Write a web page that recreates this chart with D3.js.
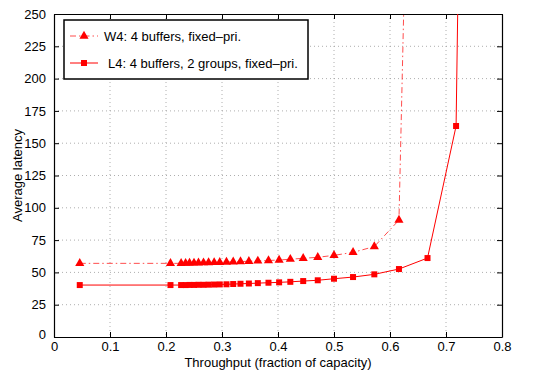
<!DOCTYPE html>
<html>
<head>
<meta charset="utf-8">
<script src="https://cdn.jsdelivr.net/npm/d3@7"></script>
<style>
  body { margin: 0; background: #fff; }
  svg { display: block; font-family: "Liberation Sans", Arial, sans-serif; }
</style>
</head>
<body>
<div id="chart"></div>
<script>
// Throughput values (fraction of capacity)
const w4X = [0.046, 0.208, 0.227, 0.235, 0.242, 0.250, 0.258, 0.267, 0.276, 0.286, 0.296,
  0.308, 0.320, 0.333, 0.348, 0.364, 0.383, 0.402, 0.422, 0.445, 0.471, 0.500, 0.534,
  0.572, 0.616, 0.627];
const w4Y = [57, 57, 57, 57.1, 57.2, 57.3, 57.4, 57.5, 57.6, 57.7, 57.8,
  58, 58.2, 58.4, 58.6, 58.9, 59.2, 59.6, 60.2, 60.9, 61.7, 63.2, 65.5,
  70, 90.5, 300];

const l4X = [0.046, 0.208, 0.227, 0.235, 0.242, 0.250, 0.258, 0.267, 0.276, 0.286, 0.296,
  0.308, 0.320, 0.333, 0.348, 0.364, 0.383, 0.402, 0.422, 0.445, 0.471, 0.500, 0.534,
  0.572, 0.616, 0.667, 0.718, 0.7225];
const l4Y = [40.2, 40.2, 40.2, 40.2, 40.3, 40.3, 40.4, 40.4, 40.5, 40.6, 40.7,
  40.8, 41, 41.2, 41.4, 41.7, 42, 42.3, 42.7, 43.3, 43.9, 45.1, 46.4,
  48.5, 52.6, 61.1, 163.3, 300];
// markers are drawn only for the measured points (the last point runs off the top)
const w4Marked = w4X.length - 1;
const l4Marked = l4X.length - 1;

const xTicks = [0, 0.1, 0.2, 0.3, 0.4, 0.5, 0.6, 0.7, 0.8];
const yTicks = [0, 25, 50, 75, 100, 125, 150, 175, 200, 225, 250];

const seriesNames = ['W4: 4 buffers, fixed\u2013pri.', 'L4: 4 buffers, 2 groups, fixed\u2013pri.'];

const width = 545;
const height = 370;
const margin = { top: 14, right: 43, bottom: 33, left: 54 };
const innerW = width - margin.left - margin.right;
const innerH = height - margin.top - margin.bottom;
const red = '#ff0000';

const svg = d3.select('#chart').append('svg')
  .attr('width', width)
  .attr('height', height);

const g = svg.append('g').attr('transform', `translate(${margin.left},${margin.top})`);

const x = d3.scaleLinear().domain([0, 0.8]).range([0, innerW]);
const y = d3.scaleLinear().domain([0, 250]).range([innerH, 0]);

// dotted grid
g.append('g').selectAll('line').data(xTicks.slice(1, -1)).enter().append('line')
  .attr('x1', d => x(d)).attr('x2', d => x(d))
  .attr('y1', 0).attr('y2', innerH)
  .attr('stroke', '#999').attr('stroke-width', 0.8).attr('stroke-dasharray', '1,3');
g.append('g').selectAll('line').data(yTicks.slice(1, -1)).enter().append('line')
  .attr('x1', 0).attr('x2', innerW)
  .attr('y1', d => y(d)).attr('y2', d => y(d))
  .attr('stroke', '#999').attr('stroke-width', 0.8).attr('stroke-dasharray', '1,3');

// axes with inward ticks on all four sides
const xAxis = g.append('g').attr('transform', `translate(0,${innerH})`)
  .call(d3.axisBottom(x).tickValues(xTicks).tickSizeInner(-5).tickSizeOuter(0).tickPadding(5)
    .tickFormat(d => d === 0 ? '0' : d3.format('.1f')(d)));
const yAxis = g.append('g')
  .call(d3.axisLeft(y).tickValues(yTicks).tickSizeInner(-5).tickSizeOuter(0).tickPadding(8));
g.append('g')
  .call(d3.axisTop(x).tickValues(xTicks).tickSizeInner(-5).tickSizeOuter(0).tickFormat(''));
g.append('g').attr('transform', `translate(${innerW},0)`)
  .call(d3.axisRight(y).tickValues(yTicks).tickSizeInner(-5).tickSizeOuter(0).tickFormat(''));

g.selectAll('.domain').attr('stroke', '#000').attr('stroke-width', 1.2);
g.selectAll('.tick line').attr('stroke', '#000');
g.selectAll('.tick text').attr('font-size', 13).attr('fill', '#000');
xAxis.selectAll('.tick text').attr('dy', '0.71em');
yAxis.selectAll('.tick').filter(d => d === 0).select('text').attr('dy', '0.1em');

// axis labels
svg.append('text')
  .attr('x', margin.left + innerW / 2)
  .attr('y', height - 3)
  .attr('text-anchor', 'middle')
  .attr('font-size', 13)
  .text('Throughput (fraction of capacity)');
svg.append('text')
  .attr('transform', `translate(22,${margin.top + innerH / 2}) rotate(-90)`)
  .attr('text-anchor', 'middle')
  .attr('font-size', 13)
  .text('Average latency');

// clip lines to the plot area
svg.append('clipPath').attr('id', 'plot-clip')
  .append('rect').attr('width', innerW).attr('height', innerH);

const line = d3.line().x(d => x(d[0])).y(d => y(d[1]));
const w4 = d3.zip(w4X, w4Y);
const l4 = d3.zip(l4X, l4Y);

const plot = g.append('g').attr('clip-path', 'url(#plot-clip)');

plot.append('path').datum(w4)
  .attr('d', line)
  .attr('fill', 'none')
  .attr('stroke', red)
  .attr('stroke-opacity', 0.7)
  .attr('stroke-width', 1)
  .attr('stroke-dasharray', '6,3,1.5,3');

plot.append('path').datum(l4)
  .attr('d', line)
  .attr('fill', 'none')
  .attr('stroke', red)
  .attr('stroke-width', 1);

const tri = d3.symbol().type(d3.symbolTriangle).size(36);
const sq = d3.symbol().type(d3.symbolSquare).size(36);

plot.selectAll('.w4-mark').data(w4.slice(0, w4Marked)).enter().append('path')
  .attr('class', 'w4-mark')
  .attr('d', tri)
  .attr('transform', d => `translate(${x(d[0])},${y(d[1])})`)
  .attr('fill', red);

plot.selectAll('.l4-mark').data(l4.slice(0, l4Marked)).enter().append('path')
  .attr('class', 'l4-mark')
  .attr('d', sq)
  .attr('transform', d => `translate(${x(d[0])},${y(d[1])})`)
  .attr('fill', red);

// legend
const legend = g.append('g').attr('transform', 'translate(10,6)');
legend.append('rect')
  .attr('width', 244).attr('height', 59)
  .attr('fill', '#fff').attr('stroke', '#000').attr('stroke-width', 1.5);

const rows = [
  { name: seriesNames[0], symbol: tri, dash: '6,3,1.5,3', opacity: 0.7, textX: 40 },
  { name: seriesNames[1], symbol: sq, dash: null, opacity: 1, textX: 44 }
];
rows.forEach((r, i) => {
  const ry = 16 + i * 27;
  legend.append('line')
    .attr('x1', 6).attr('x2', 34).attr('y1', ry).attr('y2', ry)
    .attr('stroke', red).attr('stroke-opacity', r.opacity)
    .attr('stroke-dasharray', r.dash);
  legend.append('path').attr('d', r.symbol)
    .attr('transform', `translate(20,${ry})`).attr('fill', red);
  legend.append('text')
    .attr('x', r.textX).attr('y', ry).attr('dy', '0.35em')
    .attr('font-size', 13)
    .text(r.name);
});
</script>
</body>
</html>
